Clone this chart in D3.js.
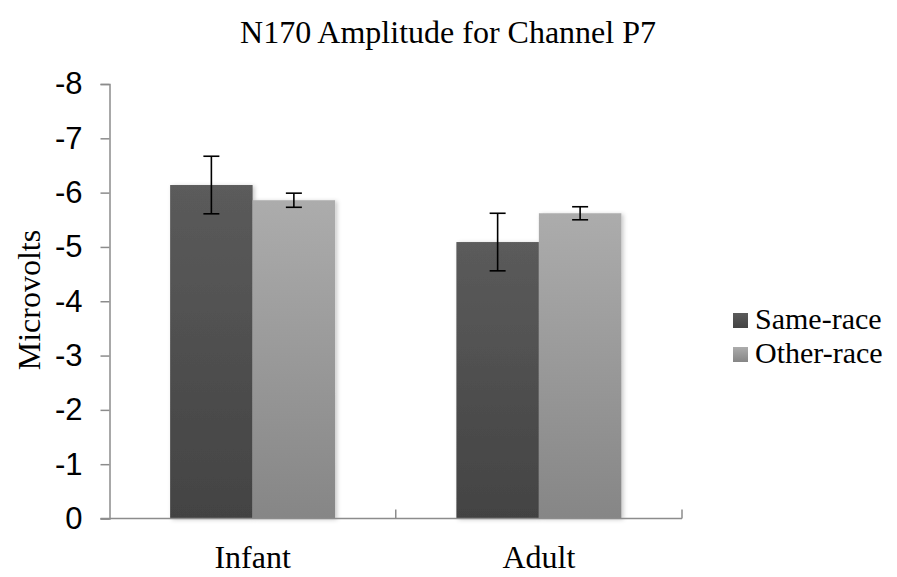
<!DOCTYPE html>
<html>
<head>
<meta charset="utf-8">
<script src="https://cdn.jsdelivr.net/npm/d3@7"></script>
<style>
	body { margin: 0; background: #fff; }
	svg { display: block; }
</style>
</head>
<body>
<div id="chart"></div>
<script>
	// data
	const categories = ['Infant', 'Adult'];
	const seriesNames = ['Same-race', 'Other-race'];
	const sameRace = [-6.14, -5.09];
	const otherRace = [-5.86, -5.62];
	const sameRaceErr = [0.53, 0.53];
	const otherRaceErr = [0.13, 0.12];
	const yTicks = [0, -1, -2, -3, -4, -5, -6, -7, -8];

	const width = 897;
	const height = 577;
	const plot = { left: 109.5, right: 682, top: 84, bottom: 518.5 };
	const serif = '"Liberation Serif", "Times New Roman", serif';
	const sans = '"Liberation Sans", Arial, sans-serif';

	const svg = d3.select('#chart').append('svg')
		.attr('width', width)
		.attr('height', height);

	// gradients + shadow
	const defs = svg.append('defs');
	const grads = [
		{ id: 'g-same', top: '#5b5b5b', bottom: '#434343' },
		{ id: 'g-other', top: '#acacac', bottom: '#868686' },
	];
	grads.forEach(g => {
		const lg = defs.append('linearGradient')
			.attr('id', g.id)
			.attr('x1', 0).attr('y1', 0)
			.attr('x2', 0).attr('y2', 1);
		lg.append('stop').attr('offset', '0%').attr('stop-color', g.top);
		lg.append('stop').attr('offset', '100%').attr('stop-color', g.bottom);
	});
	const shadow = defs.append('filter')
		.attr('id', 'shadow')
		.attr('x', '-10%').attr('y', '-10%')
		.attr('width', '130%').attr('height', '120%');
	shadow.append('feDropShadow')
		.attr('dx', 2).attr('dy', 1)
		.attr('stdDeviation', 2)
		.attr('flood-color', '#000')
		.attr('flood-opacity', 0.22);

	// scales
	const x0 = d3.scaleBand()
		.domain(categories)
		.range([plot.left, plot.right])
		.paddingInner(0)
		.paddingOuter(0);
	const x1 = d3.scaleBand()
		.domain(seriesNames)
		.range([0, x0.bandwidth()])
		.paddingInner(0)
		.paddingOuter(0.735);
	const y = d3.scaleLinear()
		.domain([0, -8])
		.range([plot.bottom, plot.top]);

	const rows = [];
	categories.forEach((c, i) => {
		rows.push({ cat: c, series: seriesNames[0], value: sameRace[i], err: sameRaceErr[i], fill: 'url(#g-same)' });
		rows.push({ cat: c, series: seriesNames[1], value: otherRace[i], err: otherRaceErr[i], fill: 'url(#g-other)' });
	});

	// bars
	svg.append('g')
		.attr('class', 'bars')
		.selectAll('rect')
			.data(rows)
			.enter().append('rect')
				.attr('x', d => x0(d.cat) + x1(d.series))
				.attr('y', d => y(d.value))
				.attr('width', x1.bandwidth())
				.attr('height', d => y(0) - y(d.value))
				.attr('fill', d => d.fill)
				.attr('filter', 'url(#shadow)');

	// error bars
	const eb = svg.append('g')
		.attr('class', 'errors')
		.selectAll('g')
			.data(rows)
			.enter().append('g')
				.attr('transform', d => `translate(${x0(d.cat) + x1(d.series) + x1.bandwidth() / 2}, 0)`)
				.attr('stroke', '#000')
				.attr('stroke-width', 1.6);
	eb.append('line')
		.attr('y1', d => y(d.value - d.err))
		.attr('y2', d => y(d.value + d.err));
	eb.append('line')
		.attr('x1', -8).attr('x2', 8)
		.attr('y1', d => y(d.value - d.err))
		.attr('y2', d => y(d.value - d.err));
	eb.append('line')
		.attr('x1', -8).attr('x2', 8)
		.attr('y1', d => y(d.value + d.err))
		.attr('y2', d => y(d.value + d.err));

	// y axis
	const yAxis = svg.append('g')
		.attr('transform', `translate(${plot.left}, 0)`)
		.call(d3.axisLeft(y)
			.tickValues(yTicks)
			.tickSize(9)
			.tickPadding(18)
			.tickFormat(d => String(d)));
	yAxis.select('.domain').attr('stroke', '#8c8c8c').attr('stroke-width', 1.5);
	yAxis.selectAll('.tick line').attr('stroke', '#8c8c8c').attr('stroke-width', 1.5);
	yAxis.selectAll('.tick text')
		.attr('fill', '#000')
		.style('font-family', sans)
		.style('font-size', '31px');

	// x axis: labels
	const xAxis = svg.append('g')
		.attr('transform', `translate(0, ${plot.bottom})`)
		.call(d3.axisBottom(x0).tickSize(0).tickPadding(27));
	xAxis.select('.domain').remove();
	xAxis.selectAll('.tick text')
		.attr('fill', '#000')
		.style('font-family', serif)
		.style('font-size', '32px');

	// x axis line and boundary ticks
	svg.append('line')
		.attr('x1', plot.left - 9).attr('x2', plot.right)
		.attr('y1', plot.bottom).attr('y2', plot.bottom)
		.attr('stroke', '#8c8c8c').attr('stroke-width', 1.5);
	const bounds = categories.map(c => x0(c) + x0.bandwidth());
	svg.append('g')
		.selectAll('line')
			.data(bounds)
			.enter().append('line')
				.attr('x1', d => d).attr('x2', d => d)
				.attr('y1', plot.bottom).attr('y2', plot.bottom - 9)
				.attr('stroke', '#8c8c8c').attr('stroke-width', 1.5);

	// title
	svg.append('text')
		.attr('x', 448)
		.attr('y', 43)
		.attr('text-anchor', 'middle')
		.style('font-family', serif)
		.style('font-size', '32px')
		.text('N170 Amplitude for Channel P7');

	// y label
	svg.append('text')
		.attr('transform', 'translate(40, 300) rotate(-90)')
		.attr('text-anchor', 'middle')
		.style('font-family', serif)
		.style('font-size', '32px')
		.text('Microvolts');

	// legend
	const legend = svg.append('g')
		.attr('transform', 'translate(733, 0)')
		.selectAll('g')
			.data(seriesNames)
			.enter().append('g')
				.attr('transform', (d, i) => `translate(0, ${329 + i * 34})`);
	legend.append('rect')
		.attr('x', 0).attr('y', -16)
		.attr('width', 15).attr('height', 15)
		.attr('fill', (d, i) => `url(#${grads[i].id})`);
	legend.append('text')
		.attr('x', 22)
		.attr('y', 0)
		.style('font-family', serif)
		.style('font-size', '30px')
		.text(d => d);
</script>
</body>
</html>
